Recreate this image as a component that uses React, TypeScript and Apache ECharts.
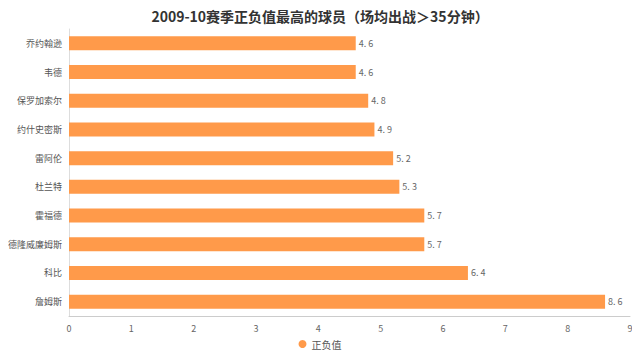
import React, { useEffect, useRef } from "react";
import * as echarts from "echarts";

const title = "2009-10赛季正负值最高的球员（场均出战＞35分钟）";
const seriesName = "正负值";
const players = ["乔约翰逊", "韦德", "保罗加索尔", "约什史密斯", "雷阿伦", "杜兰特", "霍福德", "德隆威廉姆斯", "科比", "詹姆斯"];
const plusMinus = [4.6, 4.6, 4.8, 4.9, 5.2, 5.3, 5.7, 5.7, 6.4, 8.6];

export default function App() {
  const ref = useRef<HTMLDivElement>(null);
  useEffect(() => {
    if (!ref.current) return;
    const chart = echarts.init(ref.current, undefined, { renderer: "svg" });
    chart.setOption({
      animation: false,
      backgroundColor: "#ffffff",
      textStyle: { fontFamily: "Noto Sans CJK SC, sans-serif" },
      title: {
        text: title,
        left: "center",
        top: 4,
        textStyle: { fontSize: 14, fontWeight: "bold", color: "#333" },
      },
      legend: {
        bottom: 4,
        left: "center",
        icon: "circle",
        itemWidth: 8,
        itemHeight: 8,
        itemGap: 4,
        textStyle: { fontSize: 10, color: "#555" },
        data: [seriesName],
      },
      grid: { left: 69, right: 10, top: 29, bottom: 42, containLabel: false },
      xAxis: {
        type: "value",
        min: 0,
        max: 9,
        interval: 1,
        axisLine: { show: true, lineStyle: { color: "#ccc" } },
        axisTick: { show: false },
        splitLine: { show: false },
        axisLabel: { fontSize: 9, color: "#666", margin: 8 },
      },
      yAxis: {
        type: "category",
        inverse: true,
        data: players,
        axisLine: { show: true, lineStyle: { color: "#ddd" } },
        axisTick: { show: false },
        axisLabel: { fontSize: 9, color: "#555", margin: 7 },
      },
      series: [
        {
          name: seriesName,
          type: "bar",
          data: plusMinus,
          barWidth: 14,
          itemStyle: { color: "#ff9a4a" },
          label: {
            show: true,
            position: "right",
            distance: 3,
            fontSize: 9,
            color: "#666",
            formatter: (p: any) => p.value.toFixed(1).replace(".", ". "),
          },
        },
      ],
    });
    return () => chart.dispose();
  }, []);
  return <div ref={ref} style={{ width: 640, height: 358, margin: -8 }} />;
}
